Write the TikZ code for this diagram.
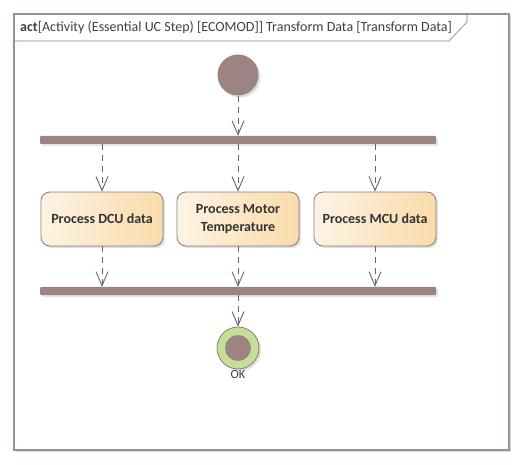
\documentclass[tikz,border=0pt]{standalone}
\usepackage{fontspec}
\setmainfont{Carlito}
\usepackage{tikz}
\usetikzlibrary{arrows.meta,shadows,positioning}

\definecolor{framebrown}{HTML}{A38E8E}
\definecolor{barbrown}{HTML}{9B8482}
\definecolor{edgeblue}{HTML}{5C667A}
\definecolor{boxleft}{HTML}{FDF3E4}
\definecolor{boxright}{HTML}{F9DBAA}
\definecolor{boxline}{HTML}{8E7A78}
\definecolor{finalgreen}{HTML}{C5DF97}

\tikzset{
  action/.style={rectangle, rounded corners=9pt, draw=boxline, line width=0.8pt,
    left color=boxleft, right color=boxright, minimum width=122pt, minimum height=54pt,
    align=center, font=\fontsize{14}{18}\selectfont\bfseries, text=black!80,
    drop shadow={shadow xshift=2pt, shadow yshift=-2pt, opacity=0.25}},
  syncbar/.style={rectangle, rounded corners=1pt, fill=barbrown, minimum width=396pt,
    minimum height=8pt, inner sep=0pt,
    drop shadow={shadow xshift=2pt, shadow yshift=-2pt, opacity=0.2}},
  flow/.style={edgeblue, line width=0.9pt, dash pattern=on 6pt off 5pt,
    -{Straight Barb[length=14pt, width=12pt, line width=0.9pt]}}
}

\begin{document}
\begin{tikzpicture}[x=1pt, y=-1pt]

\useasboundingbox (0,0) rectangle (525,465);

% the frame
\draw [framebrown, line width=1.8pt, drop shadow={shadow xshift=1.5pt, shadow yshift=-1.5pt, opacity=0.3}, fill=white] (14,14) rectangle (509,450);
\draw [boxline, line width=0.6pt] (14,41) -- (449,41) -- (467,22) -- (467,14);
\node [anchor=west, inner sep=0pt, font=\fontsize{14}{16}\selectfont, text=black!75] (title) at (20,27.5) {\textbf{act}[Activity (Essential UC Step) [ECOMOD]] Transform Data [Transform Data]};

% the start and the fork
\node [circle, fill=barbrown, minimum size=41pt, inner sep=0pt,
  drop shadow={shadow xshift=2pt, shadow yshift=-2pt, opacity=0.25}] (start) at (238,75) {};
\node [syncbar] (fork) at (238,140) {};

% the actions
\node [action] (dcu) at (102,219) {Process DCU data};
\node [action] (motor) at (238,219) {Process Motor\\Temperature};
\node [action] (mcu) at (375,219) {Process MCU data};

% the join and the end
\node [syncbar] (join) at (238,291) {};
\node [circle, draw=boxline, line width=0.8pt, fill=finalgreen, minimum size=42pt, inner sep=0pt,
  drop shadow={shadow xshift=2pt, shadow yshift=-2pt, opacity=0.25}] (final) at (238,348) {};
\node [circle, fill=barbrown, minimum size=26pt, inner sep=0pt] (finaldot) at (final) {};
\node [below=0pt of final, inner sep=1pt, font=\fontsize{12.5}{14}\selectfont, text=black!75] (ok) {OK};

% the flows
\draw [flow] (start) -- (fork);
\draw [flow] (fork.south -| dcu) -- (dcu);
\draw [flow] (fork) -- (motor);
\draw [flow] (fork.south -| mcu) -- (mcu);
\draw [flow] (dcu) -- (join.north -| dcu);
\draw [flow] (motor) -- (join);
\draw [flow] (mcu) -- (join.north -| mcu);
\draw [flow] (join) -- (final);

\end{tikzpicture}
\end{document}
